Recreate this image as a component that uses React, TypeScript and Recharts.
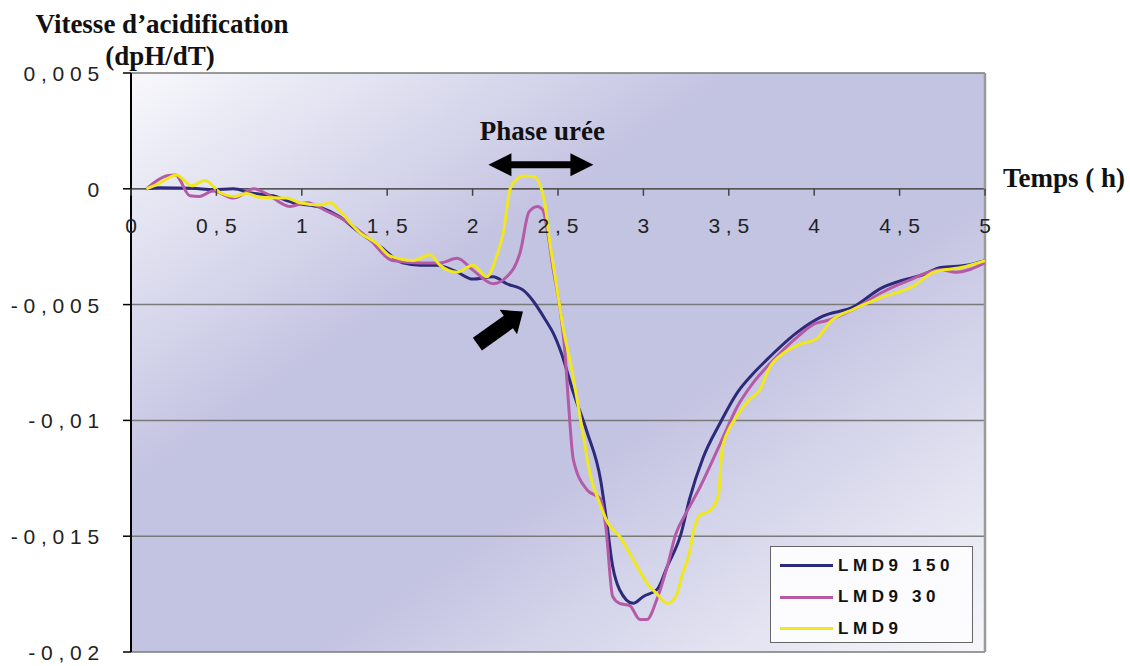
import React from "react";
import {
  LineChart,
  Line,
  XAxis,
  YAxis,
  CartesianGrid,
  ReferenceLine,
  ReferenceDot,
  Legend,
} from "recharts";

// ---------- data ----------
const t150 = [0.09, 0.17, 0.36, 0.48, 0.6, 0.7, 0.83, 0.95, 1.11, 1.22, 1.34, 1.46, 1.59, 1.69, 1.79, 1.91, 2.0, 2.12, 2.2, 2.3, 2.35, 2.43, 2.47, 2.52, 2.59, 2.67, 2.75, 2.78, 2.82, 2.86, 2.94, 3.0, 3.08, 3.14, 3.22, 3.27, 3.35, 3.45, 3.55, 3.64, 3.72, 3.9, 4.05, 4.23, 4.39, 4.54, 4.64, 4.74, 4.89, 5.0];
const v150 = [0, 0.00004, 0.00002, -0.00004, 0, -0.00018, -0.0003, -0.0006, -0.0008, -0.0012, -0.0019, -0.0025, -0.0032, -0.0033, -0.0033, -0.0036, -0.0039, -0.0038, -0.0041, -0.0044, -0.0048, -0.0057, -0.0062, -0.0071, -0.0088, -0.0105, -0.0126, -0.0141, -0.0163, -0.0173, -0.0179, -0.0176, -0.0173, -0.0163, -0.0149, -0.0134, -0.0116, -0.0101, -0.0088, -0.008, -0.0074, -0.0062, -0.0055, -0.0051, -0.0043, -0.0039, -0.0037, -0.0034, -0.0033, -0.0031];

const t30 = [0.09, 0.21, 0.26, 0.345, 0.4, 0.48, 0.6, 0.72, 0.79, 0.93, 1.03, 1.15, 1.26, 1.4, 1.53, 1.69, 1.81, 1.91, 2.0, 2.12, 2.2, 2.28, 2.33, 2.38, 2.41, 2.44, 2.47, 2.51, 2.54, 2.56, 2.59, 2.67, 2.75, 2.78, 2.82, 2.86, 2.92, 2.98, 3.02, 3.08, 3.14, 3.19, 3.25, 3.33, 3.45, 3.55, 3.64, 3.76, 3.9, 4.01, 4.07, 4.23, 4.39, 4.54, 4.74, 4.83, 5.0];
const v30 = [0, 0.00056, 0.0006, -0.0003, -0.00033, -0.0001, -0.0004, 0, -0.0002, -0.00076, -0.0006, -0.00098, -0.0014, -0.0022, -0.0031, -0.0032, -0.0032, -0.003, -0.0035, -0.0041, -0.0038, -0.0027, -0.001, -0.00076, -0.0009, -0.0019, -0.0034, -0.0051, -0.007, -0.0091, -0.0117, -0.013, -0.0134, -0.0146, -0.0176, -0.0179, -0.018, -0.0186, -0.0186, -0.0177, -0.0163, -0.0149, -0.014, -0.0129, -0.011, -0.0094, -0.0084, -0.0074, -0.0064, -0.0058, -0.0057, -0.0052, -0.0045, -0.004, -0.0035, -0.0036, -0.0032];

const t9 = [0.09, 0.17, 0.267, 0.355, 0.433, 0.521, 0.609, 0.677, 0.755, 0.911, 0.99, 1.107, 1.165, 1.224, 1.34, 1.438, 1.516, 1.653, 1.75, 1.809, 1.907, 2.004, 2.083, 2.141, 2.18, 2.22, 2.258, 2.3, 2.36, 2.42, 2.45, 2.49, 2.53, 2.57, 2.64, 2.69, 2.73, 2.79, 2.86, 2.94, 3.02, 3.08, 3.14, 3.19, 3.23, 3.27, 3.29, 3.33, 3.39, 3.44, 3.46, 3.5, 3.54, 3.62, 3.68, 3.74, 3.82, 3.92, 4.01, 4.1, 4.23, 4.39, 4.58, 4.7, 4.86, 5.0];
const v9 = [0, 0.00025, 0.0006, 0.00013, 0.00036, -0.00016, -0.00033, -0.0002, -0.00037, -0.0004, -0.0006, -0.0007, -0.0006, -0.00098, -0.0019, -0.00235, -0.0029, -0.0031, -0.00285, -0.0033, -0.0036, -0.0033, -0.0038, -0.0029, -0.0019, 0, 0.0004, 0.00055, 0.00052, -0.0005, -0.0022, -0.0041, -0.006, -0.0074, -0.0103, -0.0124, -0.0133, -0.0144, -0.015, -0.016, -0.017, -0.0175, -0.0179, -0.0176, -0.0166, -0.0157, -0.0149, -0.0141, -0.0139, -0.0132, -0.0113, -0.0104, -0.0099, -0.0091, -0.0087, -0.0077, -0.0071, -0.0067, -0.0065, -0.0057, -0.0052, -0.0047, -0.0042, -0.0036, -0.0034, -0.0031];

const seriesNames = ["LMD9 150", "LMD9 30", "LMD9"];
const seriesColors = ["#2d2a7a", "#b55aa6", "#f0e81e"];

const xTicks = [0, 0.5, 1, 1.5, 2, 2.5, 3, 3.5, 4, 4.5, 5];
const xTickLabels = ["0", "0,5", "1", "1,5", "2", "2,5", "3", "3,5", "4", "4,5", "5"];
const yTicks = [-0.02, -0.015, -0.01, -0.005, 0, 0.005];
const yTickLabels = ["-0,02", "-0,015", "-0,01", "-0,005", "0", "0,005"];

const yTitle1 = "Vitesse d\u2019acidification";
const yTitle2 = "(dpH/dT)";
const xTitle = "Temps ( h)";
const phaseLabel = "Phase urée";

const toRows = (ts: number[], vs: number[]) => ts.map((t, i) => ({ t, v: vs[i] }));
const s150 = toRows(t150, v150);
const s30 = toRows(t30, v30);
const s9 = toRows(t9, v9);

// ---------- layout ----------
const W = 1130;
const H = 666;
const X_AXIS_H = 14;
const M = { top: 73, right: 145, bottom: 0, left: 0 };
const Y_AXIS_W = 131;
const Y_MIN = -0.02;
const Y_MAX = 0.005;
const PLOT_H = H - M.top - M.bottom - X_AXIS_H;
const ZERO_Y = M.top + (PLOT_H * (Y_MAX - 0)) / (Y_MAX - Y_MIN);

const tickFont = {
  fontFamily: "'Liberation Sans', Arial, sans-serif",
  fontSize: 21,
  letterSpacing: 5.8,
  fill: "#222",
};

const XTick = (props: any) => {
  const { x, index } = props;
  return (
    <g>
      <line x1={x} x2={x} y1={ZERO_Y} y2={ZERO_Y + 7} stroke="#444" strokeWidth={1.5} />
      <text x={x + 2.9} y={ZERO_Y + 44} textAnchor="middle" {...tickFont}>
        {xTickLabels[index]}
      </text>
    </g>
  );
};

const YTick = (props: any) => {
  const { x, y, index } = props;
  return (
    <text x={x - 16} y={y + 8} textAnchor="end" {...tickFont}>
      {yTickLabels[index]}
    </text>
  );
};

const LegendBox = (props: any) => {
  const payload = [...(props.payload || [])].sort(
    (a: any, b: any) => seriesNames.indexOf(a.value) - seriesNames.indexOf(b.value)
  );
  return (
    <div
      style={{
        width: 203,
        height: 97,
        boxSizing: "border-box",
        border: "1.5px solid #666",
        background: "#fcfcfe",
        paddingTop: 3,
      }}
    >
      {payload.map((p: any, i: number) => (
        <div key={i} style={{ height: 31.5, display: "flex", alignItems: "center" }}>
          <div style={{ width: 53, height: 3, background: p.color, marginLeft: 9 }} />
          <span
            style={{
              marginLeft: 5,
              fontFamily: "'Liberation Sans', Arial, sans-serif",
              fontWeight: "bold",
              fontSize: 17,
              letterSpacing: 4.6,
              color: "#111",
              whiteSpace: "pre",
            }}
          >
            {p.value}
          </span>
        </div>
      ))}
    </div>
  );
};

const PhaseArrow = (props: any) => {
  const { cx, cy } = props;
  if (cx == null || cy == null) return <g />;
  return (
    <g>
      <text
        x={cx + 1.5}
        y={cy - 25}
        textAnchor="middle"
        fontFamily="'Liberation Serif', 'Times New Roman', serif"
        fontWeight="bold"
        fontSize={27}
        fill="#111"
      >
        {phaseLabel}
      </text>
      <polygon
        transform={`translate(${cx},${cy})`}
        points="-52.5,0 -29.5,-11.5 -29.5,-3.5 29.5,-3.5 29.5,-11.5 52.5,0 29.5,11.5 29.5,3.5 -29.5,3.5 -29.5,11.5"
        fill="#000"
      />
    </g>
  );
};

const BlockArrow = (props: any) => {
  const { cx, cy } = props;
  if (cx == null || cy == null) return <g />;
  return (
    <polygon
      transform={`translate(${cx},${cy}) rotate(-35.5)`}
      points="0,0 -18,-15 -18,-7.8 -56,-7.8 -56,7.8 -18,7.8 -18,15"
      fill="#000"
    />
  );
};

export default function App() {
  return (
    <div style={{ position: "absolute", left: 0, top: 0, width: W, height: H, background: "#fff" }}>
      <LineChart width={W} height={H} margin={M}>
        <defs>
          <linearGradient id="bgGrad" x1="0" y1="0" x2="1" y2="1">
            <stop offset="0" stopColor="#f8f8fc" />
            <stop offset="0.36" stopColor="#c3c3e2" />
            <stop offset="0.6" stopColor="#c3c3e2" />
            <stop offset="1" stopColor="#f7f7fb" />
          </linearGradient>
        </defs>
        <CartesianGrid
          vertical={false}
          stroke="#7a7a7a"
          strokeWidth={1.5}
          fill="url(#bgGrad)"
          fillOpacity={1}
        />
        <XAxis
          dataKey="t"
          type="number"
          domain={[0, 5]}
          ticks={xTicks}
          height={X_AXIS_H}
          axisLine={false}
          tickLine={false}
          tick={<XTick />}
          interval={0}
          allowDataOverflow
        />
        <YAxis
          type="number"
          domain={[Y_MIN, Y_MAX]}
          ticks={yTicks}
          width={Y_AXIS_W}
          axisLine={{ stroke: "#000", strokeWidth: 2 }}
          tickLine={{ stroke: "#000", strokeWidth: 1.5 }}
          tickSize={8}
          tick={<YTick />}
          interval={0}
          allowDataOverflow
        />
        <ReferenceLine y={0} stroke="#555" strokeWidth={1.5} />
        <ReferenceLine x={5} stroke="#9a9a9a" strokeWidth={2.5} />
        <Line data={s150} dataKey="v" name={seriesNames[0]} type="monotone" stroke={seriesColors[0]} strokeWidth={3} dot={false} activeDot={false} isAnimationActive={false} />
        <Line data={s30} dataKey="v" name={seriesNames[1]} type="monotone" stroke={seriesColors[1]} strokeWidth={3} dot={false} activeDot={false} isAnimationActive={false} />
        <Line data={s9} dataKey="v" name={seriesNames[2]} type="monotone" stroke={seriesColors[2]} strokeWidth={3} dot={false} activeDot={false} isAnimationActive={false} />
        <ReferenceDot x={2.4} y={0.00104} r={0} shape={<PhaseArrow />} />
        <ReferenceDot x={2.295} y={-0.0053} r={0} shape={<BlockArrow />} />
        <Legend
          layout="vertical"
          align="center"
          verticalAlign="middle"
          content={<LegendBox />}
          wrapperStyle={{ position: "absolute", left: 770, top: 546, width: 203, height: 97 }}
        />
      </LineChart>
      <svg
        width={W}
        height={H}
        style={{ position: "absolute", left: 0, top: 0, pointerEvents: "none" }}
      >
        <g fontFamily="'Liberation Serif', 'Times New Roman', serif" fontWeight="bold" fontSize={27} fill="#111">
          <text x={162} y={33} textAnchor="middle">{yTitle1}</text>
          <text x={160} y={65} textAnchor="middle">{yTitle2}</text>
          <text x={1003} y={187}>{xTitle}</text>
        </g>
      </svg>
    </div>
  );
}
